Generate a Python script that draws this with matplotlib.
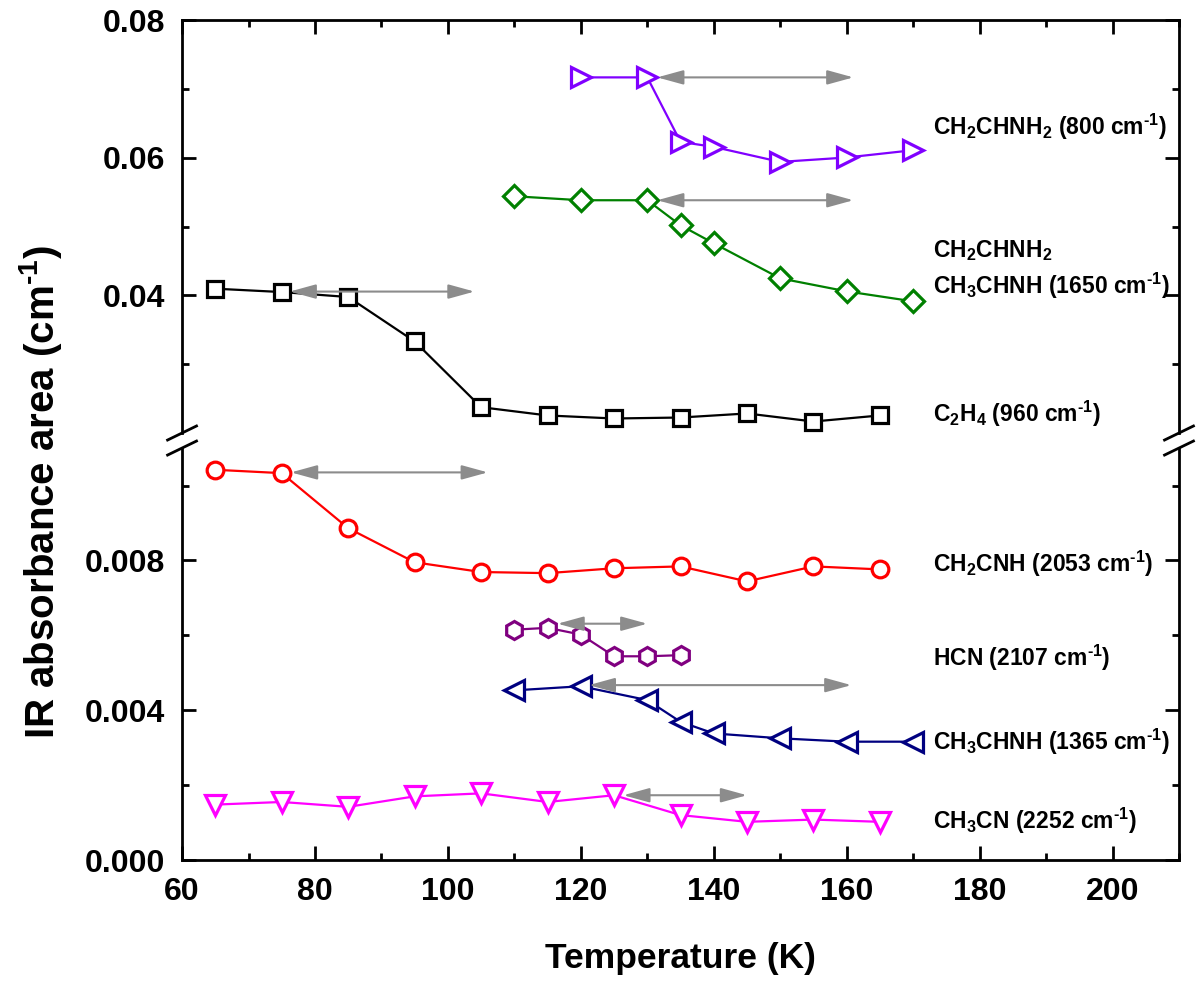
import matplotlib.pyplot as plt

plt.rcParams['font.family'] = ['Liberation Sans', 'DejaVu Sans']
plt.rcParams['font.weight'] = 'bold'
plt.rcParams['axes.labelweight'] = 'bold'
plt.rcParams['mathtext.fontset'] = 'custom'
plt.rcParams['mathtext.rm'] = 'Liberation Sans:bold'
plt.rcParams['mathtext.bf'] = 'Liberation Sans:bold'
plt.rcParams['mathtext.default'] = 'bf'

# temperatures (K)
temps_full = [65, 75, 85, 95, 105, 115, 125, 135, 145, 155, 165]
temps_hcn = [110, 115, 120, 125, 130, 135]
temps_imine = [110, 120, 130, 135, 140, 150, 160, 170]
temps_vinyl = [120, 130, 135, 140, 150, 160, 170]

# upper panel series
c2h4 = [0.04097, 0.04048, 0.03976, 0.03331, 0.02375, 0.02255,
        0.02211, 0.02225, 0.02284, 0.02167, 0.02255]
ch3chnh_1650 = [0.0544, 0.05382, 0.05382, 0.05018, 0.04756, 0.04247, 0.04058, 0.03913]
ch2chnh2_800 = [0.07167, 0.07167, 0.0623, 0.06157, 0.05939, 0.06003, 0.06109]

# lower panel series
ch2cnh = [0.01042, 0.01033, 0.00886, 0.00795, 0.00769, 0.00766,
          0.00779, 0.00784, 0.00744, 0.00784, 0.00776]
hcn = [0.00615, 0.0062, 0.00602, 0.00544, 0.00544, 0.00547]
ch3chnh_1365 = [0.00453, 0.00464, 0.00427, 0.00369, 0.00338, 0.00325, 0.00316, 0.00316]
ch3cn = [0.00148, 0.00155, 0.00142, 0.0017, 0.00178, 0.00155,
         0.00173, 0.0012, 0.00102, 0.00108, 0.00102]

# arrows: (start K, end K, level)
arrows_top = [(131.5, 161, 0.07167), (131.5, 161, 0.05382), (76.2, 104, 0.04055)]
arrows_bot = [(76.4, 106, 0.01035), (116.5, 130, 0.00631),
              (121.2, 160.7, 0.00467), (126.4, 145, 0.00173)]

# labels (hyphen in the superscript, as in the original)
inv_cm = 'cm$^{\u20101}$'
labels_top = [('CH$_2$CHNH$_2$ (800 ' + inv_cm + ')', 0.06337),
              ('CH$_2$CHNH$_2$', 0.04557),
              ('CH$_3$CHNH (1650 ' + inv_cm + ')', 0.04015),
              ('C$_2$H$_4$ (960 ' + inv_cm + ')', 0.02157)]
labels_bot = [('CH$_2$CNH (2053 ' + inv_cm + ')', 0.00769),
              ('HCN (2107 ' + inv_cm + ')', 0.00517),
              ('CH$_3$CHNH (1365 ' + inv_cm + ')', 0.00293),
              ('CH$_3$CN (2252 ' + inv_cm + ')', 0.00083)]
label_x = 173

fig = plt.figure(figsize=(12, 9.83), dpi=100)
ax_top = fig.add_axes([0.1517, 0.5595, 0.8308, 0.4201])
ax_bot = fig.add_axes([0.1517, 0.1251, 0.8308, 0.4191])

line_kw = dict(lw=1.6, mfc='white', mew=2.3)
ax_top.plot(temps_full, c2h4, color='black', marker='s', ms=11, **line_kw)
ax_top.plot(temps_imine, ch3chnh_1650, color='#008000', marker='D', ms=11, **line_kw)
ax_top.plot(temps_vinyl, ch2chnh2_800, color='#8000FF', marker='>', ms=14, **line_kw)

ax_bot.plot(temps_full, ch2cnh, color='#FF0000', marker='o', ms=12, **line_kw)
ax_bot.plot(temps_hcn, hcn, color='#800080', marker='h', ms=13, **line_kw)
ax_bot.plot(temps_imine, ch3chnh_1365, color='#000080', marker='<', ms=14, **line_kw)
ax_bot.plot(temps_full, ch3cn, color='#FF00FF', marker='v', ms=14, **line_kw)

arrow_kw = dict(arrowstyle='<|-|>,head_length=0.8,head_width=0.22', color='#8c8c8c',
                lw=1.5, mutation_scale=20, shrinkA=0, shrinkB=0)
for ax, arrows in ((ax_top, arrows_top), (ax_bot, arrows_bot)):
    for x0, x1, y in arrows:
        ax.annotate('', xy=(x1, y), xytext=(x0, y), arrowprops=arrow_kw)

for txt, y in labels_top:
    ax_top.text(label_x, y, txt, fontsize=16.5, va='baseline', ha='left')
for txt, y in labels_bot:
    ax_bot.text(label_x, y, txt, fontsize=16.5, va='baseline', ha='left')

for ax in (ax_top, ax_bot):
    ax.set_xlim(60, 210)
    ax.set_xticks(range(60, 201, 20))
    ax.set_xticks(range(70, 211, 10), minor=True)
    ax.tick_params(which='both', direction='in', width=2, top=True, right=True,
                   labelsize=23, pad=12)
    ax.tick_params(which='major', length=10)
    ax.tick_params(which='minor', length=5)
    for s in ax.spines.values():
        s.set_linewidth(2)

ax_top.set_ylim(0.02, 0.08)
ax_top.set_yticks([0.04, 0.06, 0.08])
ax_top.set_yticks([0.03, 0.05, 0.07], minor=True)
ax_top.yaxis.set_major_formatter(plt.FormatStrFormatter('%.2f'))
ax_top.spines['bottom'].set_visible(False)
ax_top.tick_params(axis='x', which='both', bottom=False, labelbottom=False)

ax_bot.set_ylim(0, 0.011)
ax_bot.set_yticks([0.0, 0.004, 0.008])
ax_bot.set_yticks([0.002, 0.006, 0.010], minor=True)
ax_bot.yaxis.set_major_formatter(plt.FormatStrFormatter('%.3f'))
ax_bot.spines['top'].set_visible(False)
ax_bot.tick_params(axis='x', which='both', top=False)

# break marks
dx, dy = 0.0145, 0.017
for ax, yb in ((ax_top, 0), (ax_bot, 1)):
    for xb in (0, 1):
        ax.plot([xb - dx, xb + dx], [yb - dy, yb + dy], transform=ax.transAxes,
                color='black', lw=2, clip_on=False)

fig.text(0.567, 0.025, 'Temperature (K)', fontsize=25.5, ha='center', va='center')
fig.text(0.034, 0.500, 'IR absorbance area (cm$^{\u20101}$)', fontsize=29,
         rotation=90, ha='center', va='center')

fig.savefig('out.png', dpi=100)
